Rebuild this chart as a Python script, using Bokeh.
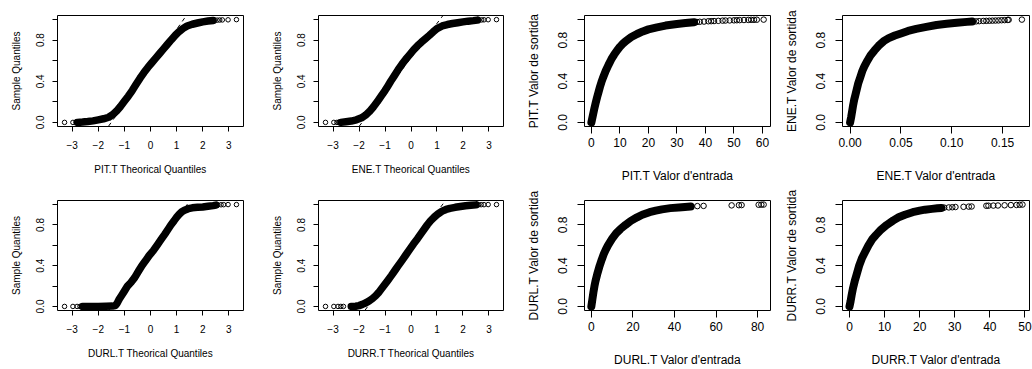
from bokeh.plotting import figure
from bokeh.layouts import column, row
from bokeh.models import FixedTicker, Range1d, PrintfTickFormatter
from bokeh.embed import file_html
from bokeh.resources import INLINE

# ---------------- data ----------------
qq_x_ticks = [-3, -2, -1, 0, 1, 2, 3]
qq_x_labels = ["\u22123", "\u22122", "\u22121", "0", "1", "2", "3"]
y_ticks_labelled = [0.0, 0.4, 0.8]
y_ticks_unlabelled = [0.2, 0.6, 1.0]

# PIT.T normal QQ
pit_qq_x = [-2.80, -2.60, -2.40, -2.20, -2.00, -1.80, -1.60, -1.45, -1.30, -1.15, -1.00, -0.85, -0.70,
            -0.55, -0.40, -0.25, -0.10, 0.05, 0.20, 0.35, 0.50, 0.65, 0.80, 0.95, 1.10, 1.25, 1.40,
            1.60, 1.80, 2.00, 2.20, 2.40]
pit_qq_y = [0.000, 0.003, 0.008, 0.015, 0.025, 0.035, 0.050, 0.075, 0.110, 0.155, 0.205, 0.255, 0.310,
            0.370, 0.430, 0.485, 0.535, 0.580, 0.625, 0.670, 0.715, 0.760, 0.805, 0.848, 0.885, 0.915, 0.938,
            0.955, 0.967, 0.978, 0.986, 0.992]
pit_qq_tail_x = [-3.29, -2.97, -2.85, -2.75, 2.55, 2.65, 2.75, 2.97, 3.29]
pit_qq_tail_y = [0.000, 0.000, 0.001, 0.002, 0.995, 0.996, 0.997, 0.998, 1.000]
pit_qqline_x = [-1.78, 1.54]
pit_qqline_y = [-0.10, 1.10]

# ENE.T normal QQ
ene_qq_x = [-2.70, -2.50, -2.30, -2.10, -1.90, -1.75, -1.60, -1.45, -1.30, -1.15, -1.00, -0.90, -0.78,
            -0.65, -0.50, -0.35, -0.20, -0.05, 0.10, 0.25, 0.40, 0.55, 0.70, 0.85, 1.00, 1.20, 1.40,
            1.60, 1.80, 2.00, 2.20, 2.40, 2.55]
ene_qq_y = [0.000, 0.006, 0.013, 0.025, 0.045, 0.070, 0.105, 0.150, 0.200, 0.255, 0.310, 0.350, 0.400,
            0.450, 0.510, 0.565, 0.615, 0.660, 0.705, 0.745, 0.780, 0.812, 0.845, 0.880, 0.912, 0.938, 0.952,
            0.962, 0.970, 0.978, 0.985, 0.990, 0.995]
ene_qq_tail_x = [-3.29, -2.97, -2.85, -2.78, 2.62, 2.72, 2.81, 2.97, 3.29]
ene_qq_tail_y = [0.000, 0.000, 0.000, 0.001, 0.996, 0.997, 0.998, 0.999, 1.000]
ene_qqline_x = [-2.18, 1.41]
ene_qqline_y = [-0.10, 1.10]

# DURL.T normal QQ
durl_qq_x = [-2.60, -2.30, -2.00, -1.70, -1.45, -1.35, -1.28, -1.20, -1.10, -1.00, -0.88, -0.75, -0.60,
             -0.45, -0.33, -0.20, -0.05, 0.10, 0.25, 0.40, 0.55, 0.68, 0.78, 0.90, 1.00, 1.10, 1.20,
             1.30, 1.45, 1.60, 1.80, 2.00, 2.20, 2.40, 2.50]
durl_qq_y = [0.000, 0.000, 0.000, 0.001, 0.003, 0.008, 0.030, 0.070, 0.110, 0.150, 0.200, 0.235, 0.285,
             0.350, 0.400, 0.445, 0.500, 0.545, 0.600, 0.655, 0.710, 0.760, 0.800, 0.840, 0.875, 0.905, 0.930,
             0.945, 0.960, 0.968, 0.973, 0.977, 0.983, 0.990, 0.995]
durl_qq_tail_x = [-3.29, -2.97, -2.81, -2.70, 2.58, 2.70, 2.80, 2.97, 3.29]
durl_qq_tail_y = [0.000, 0.000, 0.000, 0.000, 0.997, 0.998, 0.999, 1.000, 1.000]
durl_qqline_x = [-1.78, 1.69]
durl_qqline_y = [-0.10, 1.10]

# DURR.T normal QQ
durr_qq_x = [-2.30, -2.13, -2.00, -1.87, -1.73, -1.60, -1.48, -1.36, -1.25, -1.15, -1.04, -0.90, -0.75,
             -0.60, -0.49, -0.35, -0.20, -0.05, 0.10, 0.25, 0.40, 0.52, 0.63, 0.75, 0.90, 1.05, 1.20,
             1.35, 1.50, 1.70, 1.90, 2.10, 2.30, 2.50]
durr_qq_y = [0.000, 0.002, 0.008, 0.020, 0.036, 0.056, 0.078, 0.105, 0.135, 0.168, 0.205, 0.253, 0.305,
             0.360, 0.400, 0.450, 0.505, 0.560, 0.615, 0.665, 0.720, 0.762, 0.802, 0.840, 0.878, 0.910, 0.935,
             0.952, 0.963, 0.973, 0.981, 0.988, 0.993, 0.997]
durr_qq_tail_x = [-3.29, -2.97, -2.81, -2.70, -2.60, 2.60, 2.70, 2.81, 2.97, 3.29]
durr_qq_tail_y = [0.000, 0.000, 0.000, 0.000, 0.000, 0.998, 0.999, 0.999, 1.000, 1.000]
durr_qqline_x = [-1.95, 1.50]
durr_qqline_y = [-0.10, 1.10]

# PIT.T input -> output
pit_in = [0, 0.5, 1.0, 1.5, 2.0, 2.5, 3.0, 3.5, 4.0, 5.0, 6.0, 7.0, 8.0, 9.0, 10, 11, 12, 14, 16, 18,
          20, 23, 26, 30, 33, 36]
pit_out = [0.0, 0.065, 0.13, 0.19, 0.245, 0.295, 0.345, 0.39, 0.43, 0.50, 0.56, 0.615, 0.66, 0.70, 0.735,
           0.765, 0.79, 0.83, 0.86, 0.885, 0.905, 0.925, 0.942, 0.958, 0.967, 0.975]
pit_in_tail = [37, 38, 39.5, 41, 42, 43, 44.5, 46, 47, 48.5, 50, 51, 52, 53.5, 55, 56, 57, 58, 60.4]
pit_out_tail = [0.977, 0.979, 0.981, 0.984, 0.985, 0.986, 0.988, 0.990, 0.991, 0.992, 0.993, 0.994, 0.995,
                0.996, 0.997, 0.998, 0.998, 0.999, 1.000]

# ENE.T input -> output
ene_in = [0, 0.001, 0.002, 0.003, 0.004, 0.005, 0.0065, 0.008, 0.010, 0.012, 0.014, 0.017, 0.020, 0.024,
          0.028, 0.033, 0.038, 0.044, 0.050, 0.057, 0.065, 0.075, 0.085, 0.095, 0.105, 0.115, 0.120]
ene_out = [0.0, 0.05, 0.11, 0.17, 0.22, 0.26, 0.32, 0.38, 0.44, 0.50, 0.545, 0.60, 0.65, 0.70,
           0.745, 0.79, 0.82, 0.845, 0.865, 0.89, 0.91, 0.93, 0.948, 0.96, 0.97, 0.978, 0.981]
ene_in_tail = [0.124, 0.127, 0.131, 0.134, 0.137, 0.140, 0.143, 0.146, 0.149, 0.152, 0.155, 0.156, 0.169]
ene_out_tail = [0.983, 0.985, 0.987, 0.988, 0.989, 0.990, 0.991, 0.992, 0.994, 0.995, 0.997, 0.998, 1.000]

# DURL.T input -> output
durl_in = [0, 0.5, 1.0, 1.5, 2.0, 3.0, 4.0, 5.0, 6.0, 7.0, 8.0, 10, 12, 14, 16.4, 19, 22, 24.5, 28, 31,
           34, 38, 42, 45, 47.8]
durl_out = [0.0, 0.07, 0.14, 0.20, 0.25, 0.33, 0.40, 0.46, 0.515, 0.56, 0.60, 0.665, 0.72, 0.76, 0.80,
            0.84, 0.875, 0.90, 0.925, 0.94, 0.953, 0.965, 0.972, 0.977, 0.98]
durl_in_tail = [51.0, 54.0, 67.5, 71.0, 72.3, 80.5, 81.8, 82.9]
durl_out_tail = [0.985, 0.987, 0.992, 0.994, 0.995, 0.998, 0.999, 1.000]

# DURR.T input -> output
durr_in = [0, 0.3, 0.6, 1.0, 1.5, 2.0, 2.75, 3.5, 4.5, 5.4, 6.5, 7.5, 9.0, 10.6, 12.5, 14.0, 15.8, 18.0,
           20.0, 21.5, 23.5, 25.0, 26.2]
durr_out = [0.0, 0.05, 0.11, 0.18, 0.25, 0.31, 0.40, 0.47, 0.54, 0.60, 0.66, 0.70, 0.755, 0.80, 0.845,
            0.875, 0.90, 0.925, 0.94, 0.95, 0.958, 0.963, 0.967]
durr_in_tail = [27.0, 28.3, 29.3, 30.2, 32.5, 34.0, 34.8, 39.0, 39.6, 41.0, 42.3, 44.2, 46.0, 47.6, 48.5, 49.3]
durr_out_tail = [0.970, 0.972, 0.974, 0.976, 0.978, 0.980, 0.981, 0.988, 0.989, 0.990, 0.991, 0.993, 0.995,
                 0.996, 0.998, 1.000]

# ---------------- styling ----------------
FONT = "Liberation Sans"


def make_panel(bx, by, tx, ty, lx, ly, x_rng, x_ticks, x_labels, x_fmt, xlabel, ylabel,
               big, left, frame_w, height, top):
    fs = "12px" if big else "10px"
    tick_out = 7 if big else 5
    msize = 5.5 if big else 4.5
    bwidth = 8.0 if big else 7.5
    frame_h = 111
    right = 258 - left - frame_w
    bottom = height - top - frame_h
    p = figure(width=258, height=height, output_backend="svg", toolbar_location=None,
               x_range=Range1d(*x_rng), y_range=Range1d(-0.04, 1.04),
               min_border_left=left, min_border_right=right,
               min_border_top=top, min_border_bottom=bottom)
    p.background_fill_color = "white"
    p.border_fill_color = "white"
    p.outline_line_color = "black"
    p.outline_line_width = 1
    p.outline_line_alpha = 1.0
    p.xgrid.visible = False
    p.ygrid.visible = False

    # dense band of overlapping circles
    p.line(bx, by, line_width=bwidth, color="black", line_cap="round", line_join="round")
    p.scatter(bx, by, size=msize, marker="circle", fill_color=None, line_color="black", line_width=1)
    p.scatter(tx, ty, size=msize, marker="circle", fill_color=None, line_color="black", line_width=1)
    if lx is not None:
        p.line(lx, ly, line_dash="4 4", color="black", line_width=1)

    xa = p.xaxis[0]
    xa.ticker = FixedTicker(ticks=x_ticks)
    if x_labels is not None:
        xa.major_label_overrides = {t: s for t, s in zip(x_ticks, x_labels)}
    if x_fmt is not None:
        xa.formatter = PrintfTickFormatter(format=x_fmt)
    ya = p.yaxis[0]
    ya.ticker = FixedTicker(ticks=y_ticks_labelled, minor_ticks=y_ticks_unlabelled)
    ya.formatter = PrintfTickFormatter(format="%.1f")
    ya.major_label_orientation = "vertical"
    xa.axis_label = xlabel
    ya.axis_label = ylabel
    for ax in (xa, ya):
        ax.axis_line_color = None
        ax.major_tick_in = 0
        ax.major_tick_out = tick_out
        ax.major_tick_line_color = "black"
        ax.major_label_text_font = FONT
        ax.major_label_text_font_size = fs
        ax.major_label_text_color = "black"
        ax.axis_label_text_font = FONT
        ax.axis_label_text_font_size = fs
        ax.axis_label_text_font_style = "normal"
        ax.axis_label_text_color = "black"
    xa.minor_tick_out = 0
    xa.minor_tick_in = 0
    ya.minor_tick_in = 0
    ya.minor_tick_out = tick_out
    ya.minor_tick_line_color = "black"
    if big:
        xa.major_label_standoff = 4
        xa.axis_label_standoff = 19
        ya.major_label_standoff = 10
        ya.axis_label_standoff = 15
    else:
        xa.major_label_standoff = 9
        xa.axis_label_standoff = 12
        ya.major_label_standoff = 8
        ya.axis_label_standoff = 12
    return p


QQ_RANGE = (-3.56, 3.56)

p1 = make_panel(pit_qq_x, pit_qq_y, pit_qq_tail_x, pit_qq_tail_y, pit_qqline_x, pit_qqline_y,
                QQ_RANGE, qq_x_ticks, qq_x_labels, None, "PIT.T Theorical Quantiles", "Sample Quantiles",
                False, 57, 186, 185, 15)
p2 = make_panel(ene_qq_x, ene_qq_y, ene_qq_tail_x, ene_qq_tail_y, ene_qqline_x, ene_qqline_y,
                QQ_RANGE, qq_x_ticks, qq_x_labels, None, "ENE.T Theorical Quantiles", "Sample Quantiles",
                False, 60, 185, 185, 15)
p3 = make_panel(pit_in, pit_out, pit_in_tail, pit_out_tail, None, None,
                (-2.42, 62.8), [0, 10, 20, 30, 40, 50, 60], None, None,
                "PIT.T Valor d'entrada", "PIT.T Valor de sortida", True, 68, 186, 185, 15)
p4 = make_panel(ene_in, ene_out, ene_in_tail, ene_out_tail, None, None,
                (-0.0075, 0.1765), [0.0, 0.05, 0.10, 0.15], None, "%.2f",
                "ENE.T Valor d'entrada", "ENE.T Valor de sortida", True, 68, 187, 185, 15)
p5 = make_panel(durl_qq_x, durl_qq_y, durl_qq_tail_x, durl_qq_tail_y, durl_qqline_x, durl_qqline_y,
                QQ_RANGE, qq_x_ticks, qq_x_labels, None, "DURL.T Theorical Quantiles", "Sample Quantiles",
                False, 57, 186, 184, 15)
p6 = make_panel(durr_qq_x, durr_qq_y, durr_qq_tail_x, durr_qq_tail_y, durr_qqline_x, durr_qqline_y,
                QQ_RANGE, qq_x_ticks, qq_x_labels, None, "DURR.T Theorical Quantiles", "Sample Quantiles",
                False, 60, 185, 184, 15)
p7 = make_panel(durl_in, durl_out, durl_in_tail, durl_out_tail, None, None,
                (-3.3, 86.2), [0, 20, 40, 60, 80], None, None,
                "DURL.T Valor d'entrada", "DURL.T Valor de sortida", True, 68, 186, 184, 15)
p8 = make_panel(durr_in, durr_out, durr_in_tail, durr_out_tail, None, None,
                (-2.0, 51.3), [0, 10, 20, 30, 40, 50], None, None,
                "DURR.T Valor d'entrada", "DURR.T Valor de sortida", True, 68, 187, 184, 15)

layout = column(row(p1, p2, p3, p4, spacing=0), row(p5, p6, p7, p8, spacing=0), spacing=0)

open("out.html", "w").write(file_html(layout, INLINE))
